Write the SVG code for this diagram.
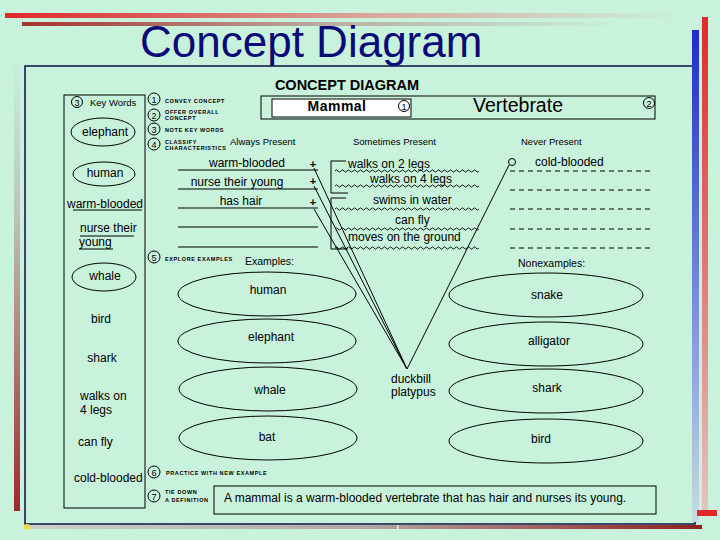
<svg xmlns="http://www.w3.org/2000/svg" width="720" height="540" viewBox="0 0 720 540">
<defs>
<linearGradient id="gTop1" x1="0" y1="0" x2="1" y2="0"><stop offset="0" stop-color="#E02828"/><stop offset="0.55" stop-color="#D9A89E"/><stop offset="1" stop-color="#C8F2DC"/></linearGradient>
<linearGradient id="gTop2" x1="0" y1="0" x2="1" y2="0"><stop offset="0" stop-color="#A83030"/><stop offset="0.5" stop-color="#B8ABA0"/><stop offset="1" stop-color="#C8F2DC"/></linearGradient>
<linearGradient id="gLeft" x1="0" y1="0" x2="0" y2="1"><stop offset="0" stop-color="#C8F2DC"/><stop offset="0.35" stop-color="#BCC4B8"/><stop offset="1" stop-color="#A02828"/></linearGradient>
<linearGradient id="gBlue" x1="0" y1="0" x2="0" y2="1"><stop offset="0" stop-color="#1E2EC8"/><stop offset="1" stop-color="#C4DCE4"/></linearGradient>
<linearGradient id="gRed" x1="0" y1="0" x2="0" y2="1"><stop offset="0" stop-color="#E02A2A"/><stop offset="1" stop-color="#E4C4C0"/></linearGradient>
<linearGradient id="gBot" x1="0" y1="0" x2="1" y2="0"><stop offset="0" stop-color="#C8D0C8"/><stop offset="0.5" stop-color="#B4A8A4"/><stop offset="1" stop-color="#902020"/></linearGradient>
<path id="wave" d="M0 0q1.5 -2.2 3 0t3 0t3 0t3 0t3 0t3 0t3 0t3 0t3 0t3 0t3 0t3 0t3 0t3 0t3 0t3 0t3 0t3 0t3 0t3 0t3 0t3 0t3 0t3 0t3 0t3 0t3 0t3 0t3 0t3 0t3 0t3 0t3 0t3 0t3 0t3 0t3 0t3 0t3 0t3 0t3 0t3 0t3 0t3 0t3 0t3 0t3 0t3 0"/>
</defs>
<style>
text{font-family:"Liberation Sans",Arial,sans-serif;fill:#000}
.t12{font-size:12px}
.mid{text-anchor:middle}
.hd{font-size:9.5px}
.tiny{font-size:5.5px;font-weight:bold;letter-spacing:0.6px}
.num{font-size:9px;text-anchor:middle}
.ln{stroke:#000;stroke-width:1;fill:none}
.wv{stroke:#000;stroke-width:0.9;fill:none}
.dash{stroke:#000;stroke-width:1;stroke-dasharray:5 4;fill:none}
.el{fill:none;stroke:#000;stroke-width:1}
</style>
<rect width="720" height="540" fill="#C8F2DC"/>
<!-- decoration -->
<rect x="5" y="13" width="675" height="5" fill="url(#gTop1)"/>
<rect x="22" y="22" width="600" height="4" fill="url(#gTop2)"/>
<rect x="14" y="55" width="6" height="456" fill="url(#gLeft)"/>
<rect x="25" y="525" width="677" height="4" fill="url(#gBot)"/>
<rect x="397" y="525" width="1.5" height="4" fill="#E8F0E8"/>
<rect x="25" y="66" width="670" height="458" fill="none" stroke="#0A1040" stroke-width="1.5"/>
<rect x="692" y="30" width="7" height="492" fill="url(#gBlue)"/>
<rect x="702" y="17" width="6" height="495" fill="url(#gRed)"/>
<rect x="697" y="510" width="20" height="6" fill="#E02A2A"/>
<circle cx="27" cy="527" r="3" fill="#F0E040"/>
<text x="140" y="57" font-size="44" fill="#0A0A78" style="fill:#0A0A78">Concept Diagram</text>
<text x="347" y="90" font-size="14.5" font-weight="bold" class="mid">CONCEPT DIAGRAM</text>
<!-- concept box -->
<g id="vertebrate">
<rect x="261" y="96" width="394" height="23" fill="none" stroke="#000" stroke-width="1"/>
<text x="518" y="112" font-size="19.5" class="mid">Vertebrate</text>
<circle cx="649" cy="103" r="5.5" fill="none" stroke="#000"/><text x="649" y="106.5" class="num">2</text>
</g>
<g id="mammal">
<rect x="272" y="99" width="139" height="18" fill="#fff" stroke="#000" stroke-width="1"/>
<text x="337" y="111" font-size="14" font-weight="bold" letter-spacing="0.5" class="mid">Mammal</text>
<circle cx="404" cy="106" r="5.5" fill="none" stroke="#000"/><text x="404" y="109.5" class="num">1</text>
</g>
<!-- key words column -->
<g id="keywords">
<rect x="64" y="95" width="81" height="413" fill="none" stroke="#000" stroke-width="1"/>
<circle cx="77" cy="102" r="5.5" fill="none" stroke="#000"/><text x="77" y="105.5" class="num">3</text>
<text x="90" y="106" font-size="9.5">Key Words</text>
<ellipse cx="103" cy="132" rx="32" ry="14" class="el"/><text x="105" y="136" class="t12 mid">elephant</text>
<ellipse cx="104" cy="174" rx="31" ry="12" class="el"/><text x="105" y="177" class="t12 mid">human</text>
<text x="105" y="208" class="t12 mid">warm-blooded</text><path d="M73 210H142" class="ln"/>
<text x="80" y="232" class="t12">nurse their</text><path d="M80 236H134" class="ln"/>
<text x="79" y="246" class="t12">young</text><path d="M79 249H113" class="ln"/>
<ellipse cx="104" cy="277" rx="32" ry="14" class="el"/><text x="105" y="280" class="t12 mid">whale</text>
<text x="101" y="323" class="t12 mid">bird</text>
<text x="102" y="362" class="t12 mid">shark</text>
<text x="80" y="400" class="t12">walks on</text>
<text x="80" y="414" class="t12">4 legs</text>
<text x="78" y="446" class="t12">can fly</text>
<text x="74" y="482" class="t12">cold-blooded</text>
</g>
<!-- steps -->
<g id="steps">
<circle cx="154" cy="99" r="6" fill="none" stroke="#000"/><text x="154" y="102.5" class="num">1</text>
<text x="165" y="103" class="tiny">CONVEY CONCEPT</text>
<circle cx="154" cy="115" r="6" fill="none" stroke="#000"/><text x="154" y="118.5" class="num">2</text>
<text x="165" y="114" class="tiny">OFFER OVERALL</text><text x="165" y="120" class="tiny">CONCEPT</text>
<circle cx="154" cy="129" r="6" fill="none" stroke="#000"/><text x="154" y="132.5" class="num">3</text>
<text x="165" y="132" class="tiny">NOTE KEY WORDS</text>
<circle cx="154" cy="144" r="6" fill="none" stroke="#000"/><text x="154" y="147.5" class="num">4</text>
<text x="165" y="144" class="tiny">CLASSIFY</text><text x="165" y="150" class="tiny">CHARACTERISTICS</text>
<circle cx="154" cy="257" r="6" fill="none" stroke="#000"/><text x="154" y="260.5" class="num">5</text>
<text x="165" y="261" class="tiny">EXPLORE EXAMPLES</text>
<circle cx="154" cy="472" r="6" fill="none" stroke="#000"/><text x="154" y="475.5" class="num">6</text>
<text x="166" y="475" class="tiny">PRACTICE WITH NEW EXAMPLE</text>
<circle cx="154" cy="496" r="6" fill="none" stroke="#000"/><text x="154" y="499.5" class="num">7</text>
<text x="165" y="494" class="tiny">TIE DOWN</text><text x="165" y="502" class="tiny">A DEFINITION</text>
</g>
<!-- headings -->
<text x="230" y="145" class="hd">Always Present</text>
<text x="353" y="145" class="hd">Sometimes Present</text>
<text x="521" y="145" class="hd">Never Present</text>
<!-- always present -->
<g id="always">
<text x="247" y="167" class="t12 mid">warm-blooded</text>
<text x="237" y="186" class="t12 mid">nurse their young</text>
<text x="241" y="205" class="t12 mid">has hair</text>
<path d="M178 170H318M178 189H318M178 208H318M178 227H318M178 247H318" class="ln"/>
<text x="313" y="168" font-size="11" font-weight="bold" class="mid">+</text>
<text x="313" y="185" font-size="11" font-weight="bold" class="mid">+</text>
<text x="313" y="206" font-size="11" font-weight="bold" class="mid">+</text>
</g>
<!-- sometimes present -->
<g id="sometimes">
<path d="M346 161H331V193H348M346 198H331V249H348" class="ln"/>
<use href="#wave" x="335" y="171" class="wv"/>
<use href="#wave" x="335" y="186" class="wv"/>
<use href="#wave" x="335" y="209" class="wv"/>
<use href="#wave" x="335" y="229" class="wv"/>
<use href="#wave" x="335" y="248" class="wv"/>
<text x="348" y="168" class="t12">walks on 2 legs</text>
<text x="370" y="183" class="t12">walks on 4 legs</text>
<text x="373" y="204" class="t12">swims in water</text>
<text x="395" y="224" class="t12">can fly</text>
<text x="348" y="241" class="t12">moves on the ground</text>
</g>
<!-- never present -->
<g id="never">
<circle cx="512" cy="162" r="3.5" fill="none" stroke="#000"/>
<text x="535" y="166" class="t12">cold-blooded</text>
<path d="M510 171H652M510 190H652M510 209H652M510 229H652M510 248H652" class="dash"/>
</g>
<!-- examples -->
<text x="245" y="265" font-size="10.5">Examples:</text>
<text x="518" y="267" font-size="10.5">Nonexamples:</text>
<g id="ex-human"><ellipse cx="267" cy="294" rx="89" ry="22" class="el"/><text x="268" y="294" class="t12 mid">human</text></g>
<g id="ex-elephant"><ellipse cx="267" cy="341" rx="89" ry="22" class="el"/><text x="271" y="341" class="t12 mid">elephant</text></g>
<g id="ex-whale"><ellipse cx="268" cy="389" rx="89" ry="22" class="el"/><text x="270" y="394" class="t12 mid">whale</text></g>
<g id="ex-bat"><ellipse cx="268" cy="438" rx="89" ry="22" class="el"/><text x="267" y="441" class="t12 mid">bat</text></g>
<g id="non-snake"><ellipse cx="546" cy="295" rx="97" ry="22" class="el"/><text x="547" y="299" class="t12 mid">snake</text></g>
<g id="non-alligator"><ellipse cx="546" cy="344" rx="97" ry="22" class="el"/><text x="549" y="345" class="t12 mid">alligator</text></g>
<g id="non-shark"><ellipse cx="546" cy="391" rx="97" ry="22" class="el"/><text x="547" y="392" class="t12 mid">shark</text></g>
<g id="non-bird"><ellipse cx="546" cy="441" rx="97" ry="22" class="el"/><text x="541" y="443" class="t12 mid">bird</text></g>
<g id="platypus">
<text x="391" y="383" class="t12">duckbill</text>
<text x="391" y="396" class="t12">platypus</text>
</g>
<g id="connectors">
<path d="M314 168L407 369M314 186L407 369M314 209L407 369M509 165L407 369" class="ln"/>
</g>
<g id="definition">
<rect x="214" y="486" width="442" height="28" fill="none" stroke="#000" stroke-width="1"/>
<text x="224" y="502" class="t12">A mammal is a warm-blooded vertebrate that has hair and nurses its young.</text>
</g>
</svg>
